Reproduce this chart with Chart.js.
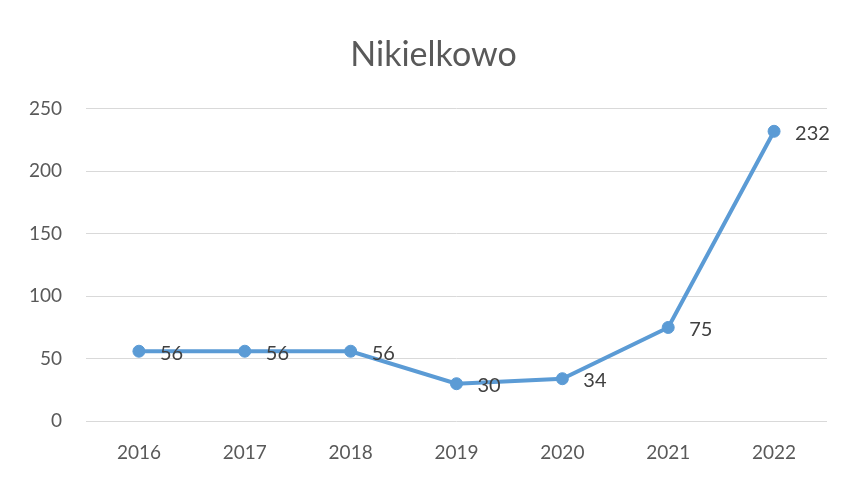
<!doctype html>
<html lang="en">
<head>
    <meta charset="utf-8">
    <title>Nikielkowo</title>
    <script src="https://cdn.jsdelivr.net/npm/chart.js@4/dist/chart.umd.min.js"></script>
</head>

<style>
    body {margin:0; background:#ffffff;}
</style>

<body>
<canvas id="nik_plot" width="846" height="478"></canvas>

<script>

    var years = ["2016", "2017", "2018", "2019", "2020", "2021", "2022"];
    var counts = [56, 56, 56, 30, 34, 75, 232];
    var y_ticks = [0, 50, 100, 150, 200, 250];

    var text_font = "Lato, 'Open Sans', sans-serif";

    // numbers right of each point, like excel does
    var point_labels = {
        id: "point_labels",
        afterDatasetsDraw(chart) {
            var ctx = chart.ctx;
            var meta = chart.getDatasetMeta(0);
            ctx.save();
            ctx.font = "20px " + text_font;
            ctx.fillStyle = "#404040";
            ctx.textAlign = "left";
            ctx.textBaseline = "middle";
            meta.data.forEach((pt, i) => {
                ctx.fillText(String(counts[i]), pt.x + 21, pt.y + 2);
            });
            ctx.restore();
        }
    };

    // left pad is big so the title centres where excel had it,
    // then let the y labels spill into that pad (otherwise they get clipped)
    var widen_y = {
        id: "widen_y",
        afterLayout(chart) {
            chart.scales.y.left = 0;
        }
    };

    myChart = new Chart("nik_plot", {
        type: "line",
        data: {
            labels: years,
            datasets: [{
                label: "Nikielkowo",
                data: counts,
                borderColor: "#5b9bd5",
                backgroundColor: "#5b9bd5",
                borderWidth: 4,
                pointRadius: 6,
                pointBackgroundColor: "#5b9bd5",
                pointBorderColor: "#5b9bd5",
                pointBorderWidth: 1,
                tension: 0,
                fill: false,
                clip: false
            }]
        },
        options: {
            responsive: false,
            animation: false,
            layout: {padding: {left: 40, right: 19, top: 0, bottom: 2}},
            plugins: {
                legend: {display: false},
                tooltip: {enabled: false},
                title: {
                    display: true,
                    text: "Nikielkowo",
                    color: "#595959",
                    font: {family: text_font, size: 34, weight: "normal"},
                    padding: {top: 35, bottom: 33}
                }
            },
            scales: {
                x: {
                    offset: true,
                    grid: {display: false},
                    border: {display: false},
                    ticks: {color: "#595959", padding: 12,
                            font: {family: text_font, size: 19}}
                },
                y: {
                    min: 0,
                    max: 250,
                    afterBuildTicks: (axis) => {axis.ticks = y_ticks.map(v => ({value: v}));},
                    afterFit: (axis) => {axis.width = 46;},
                    grid: {color: "#d9d9d9", drawTicks: false},
                    border: {display: false},
                    ticks: {color: "#595959", padding: 24,
                            font: {family: text_font, size: 19}}
                }
            }
        },
        plugins: [point_labels, widen_y]
    });

</script>
</body>
</html>
